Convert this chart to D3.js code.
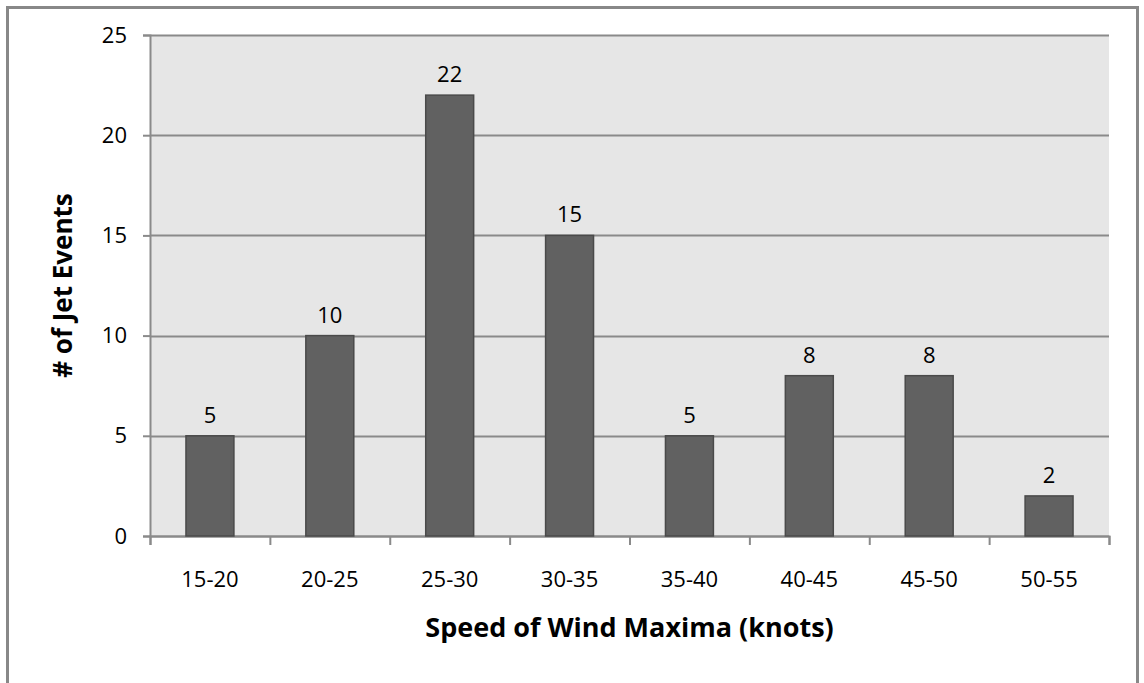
<!DOCTYPE html>
<html>
<head>
<meta charset="utf-8">
<script src="https://cdn.jsdelivr.net/npm/d3@7"></script>
<style>
  html, body { margin: 0; padding: 0; background: #fff; }
  svg { display: block; }
  text { font-family: "Open Sans", "Noto Sans", sans-serif; fill: #000; }
</style>
</head>
<body>
<svg id="chart" width="1144" height="683"></svg>
<script>
// Wind-maxima speed bins and number of jet events in each
const categories = ["15-20", "20-25", "25-30", "30-35", "35-40", "40-45", "45-50", "50-55"];
const counts = [5, 10, 22, 15, 5, 8, 8, 2];
const yTicks = [0, 5, 10, 15, 20, 25];
const xTitle = "Speed of Wind Maxima (knots)";
const yTitle = "# of Jet Events";

const plot = { left: 150, top: 35, right: 1109, bottom: 536 };

const svg = d3.select("#chart");

// outer frame of the chart
svg.append("rect")
  .attr("x", 7.5).attr("y", 7.5)
  .attr("width", 1130).attr("height", 690)
  .attr("fill", "#fff").attr("stroke", "#888").attr("stroke-width", 3);

const x = d3.scaleBand().domain(categories).range([plot.left, plot.right]).paddingInner(0.6).paddingOuter(0.3);
const xEdges = d3.scaleLinear().domain([0, categories.length]).range([plot.left, plot.right]);
const y = d3.scaleLinear().domain([0, 25]).range([plot.bottom, plot.top]);

// plot background
svg.append("rect")
  .attr("x", plot.left).attr("y", plot.top)
  .attr("width", plot.right - plot.left).attr("height", plot.bottom - plot.top)
  .attr("fill", "#e6e6e6");

// horizontal gridlines
svg.append("g")
  .selectAll("line").data(yTicks).join("line")
  .attr("x1", plot.left).attr("x2", plot.right)
  .attr("y1", d => Math.round(y(d)) + 0.5).attr("y2", d => Math.round(y(d)) + 0.5)
  .attr("stroke", "#8a8a8a").attr("stroke-width", 2);

// y axis
const yAxis = svg.append("g")
  .attr("transform", `translate(${plot.left},0)`)
  .call(d3.axisLeft(y).tickValues(yTicks).tickSize(7).tickPadding(16));
yAxis.select(".domain").attr("stroke", "#8a8a8a").attr("stroke-width", 2);
yAxis.selectAll(".tick line").attr("stroke", "#8a8a8a").attr("stroke-width", 2);
yAxis.selectAll(".tick text").style("font-size", "22px").style("font-family", "'Open Sans', sans-serif").attr("fill", "#000");

// x axis with ticks between categories
const xAxis = svg.append("g")
  .attr("transform", `translate(0,${plot.bottom})`)
  .call(d3.axisBottom(xEdges).tickValues(d3.range(0, categories.length + 1)).tickSize(9).tickFormat(""));
xAxis.select(".domain").attr("stroke", "#8a8a8a").attr("stroke-width", 2);
xAxis.selectAll(".tick line").attr("stroke", "#8a8a8a").attr("stroke-width", 2);

svg.append("g")
  .selectAll("text").data(categories).join("text")
  .attr("x", d => x(d) + x.bandwidth() / 2)
  .attr("y", 587)
  .attr("text-anchor", "middle")
  .style("font-size", "22px")
  .text(d => d);

// bars
const data = categories.map((c, i) => ({ cat: c, value: counts[i] }));
svg.append("g")
  .selectAll("rect").data(data).join("rect")
  .attr("x", d => x(d.cat))
  .attr("y", d => y(d.value))
  .attr("width", x.bandwidth())
  .attr("height", d => y(0) - y(d.value))
  .attr("fill", "#616161")
  .attr("stroke", "#4a4a4a")
  .attr("stroke-width", 1.5);

// value labels
svg.append("g")
  .selectAll("text").data(data).join("text")
  .attr("x", d => x(d.cat) + x.bandwidth() / 2)
  .attr("y", d => y(d.value) - 13)
  .attr("text-anchor", "middle")
  .style("font-size", "22px")
  .text(d => d.value);

// axis titles
svg.append("text")
  .attr("x", (plot.left + plot.right) / 2)
  .attr("y", 637)
  .attr("text-anchor", "middle")
  .style("font-size", "27px").style("font-weight", "bold")
  .text(xTitle);

svg.append("text")
  .attr("transform", `translate(72,${(plot.top + plot.bottom) / 2}) rotate(-90)`)
  .attr("text-anchor", "middle")
  .style("font-size", "26px").style("font-weight", "bold")
  .text(yTitle);
</script>
</body>
</html>
